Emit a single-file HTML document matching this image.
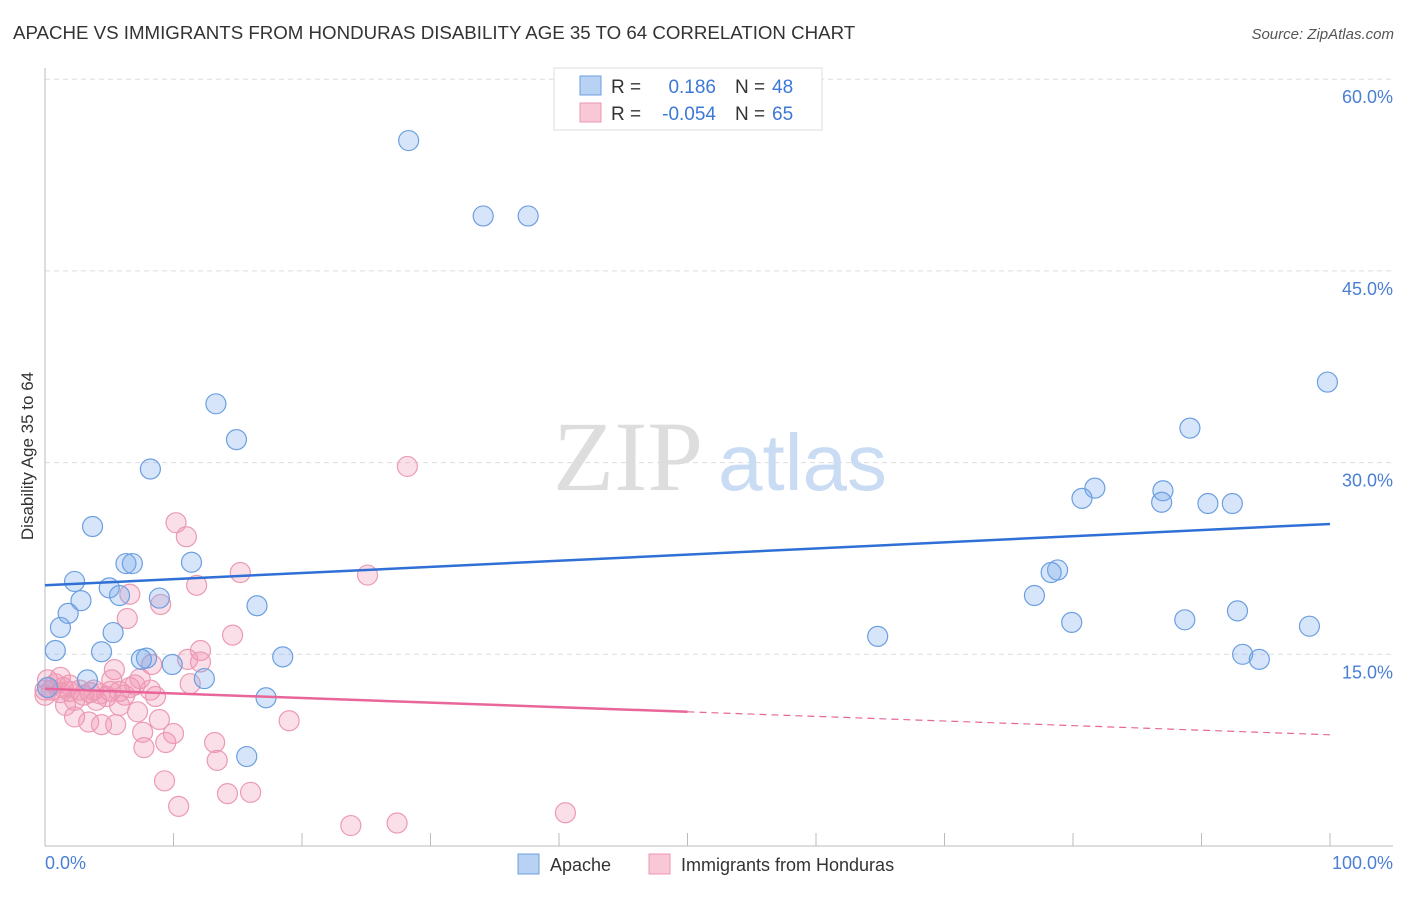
<!DOCTYPE html>
<html><head><meta charset="utf-8"><style>
body{margin:0;background:#fff;font-family:"Liberation Sans",sans-serif;}
svg text{font-family:"Liberation Sans",sans-serif;}
</style></head><body>
<svg id="chart" width="1406" height="892" xmlns="http://www.w3.org/2000/svg">
<text x="13" y="39" font-size="18.7" fill="#333">APACHE VS IMMIGRANTS FROM HONDURAS DISABILITY AGE 35 TO 64 CORRELATION CHART</text>
<text x="1394" y="39" font-size="15" fill="#555" text-anchor="end" font-style="italic">Source: ZipAtlas.com</text>
<g id="grid"></g>
<text x="553" y="490" font-size="100" fill="#ddd" style="font-family:'Liberation Serif',serif">ZIP</text>
<text x="718" y="490" font-size="80" fill="#c9dcf3">atlas</text>
<g id="pts"></g>
<g id="lines"></g>
<text transform="translate(33,456) rotate(-90)" font-size="17" fill="#333" text-anchor="middle">Disability Age 35 to 64</text>
<text x="45" y="869" font-size="18" fill="#4a7fd4">0.0%</text>
<text x="1393" y="869" font-size="18" fill="#4a7fd4" text-anchor="end">100.0%</text>
<g>
<rect x="554" y="68" width="268" height="62" fill="#fff" stroke="#ddd"/>
<rect x="580" y="76" width="21" height="19" fill="#b8d2f4" stroke="#6d9ee0"/>
<rect x="580" y="103" width="21" height="19" fill="#f9c8d6" stroke="#ec97b0"/>
<text x="611" y="93" font-size="19" fill="#333">R =</text>
<text x="716" y="93" font-size="19" fill="#3d78d6" text-anchor="end">0.186</text>
<text x="735" y="93" font-size="19" fill="#333">N =</text>
<text x="772" y="93" font-size="19" fill="#3d78d6">48</text>
<text x="611" y="120" font-size="19" fill="#333">R =</text>
<text x="716" y="120" font-size="19" fill="#3d78d6" text-anchor="end">-0.054</text>
<text x="735" y="120" font-size="19" fill="#333">N =</text>
<text x="772" y="120" font-size="19" fill="#3d78d6">65</text>
</g>
<g>
<rect x="518" y="854" width="21" height="20" fill="#b8d2f4" stroke="#6d9ee0"/>
<text x="550" y="871" font-size="18" fill="#333">Apache</text>
<rect x="649" y="854" width="21" height="20" fill="#f9c8d6" stroke="#ec97b0"/>
<text x="681" y="871" font-size="18" fill="#333">Immigrants from Honduras</text>
</g>
</svg>
<script>
const yTicks=[15,30,45,60];
const yTickLabels=["15.0%","30.0%","45.0%","60.0%"];
const xTicks=[0,10,20,30,40,50,60,70,80,90,100];
const apacheX=[28.3,34.1,37.6,13.3,14.9,8.2,3.7,6.3,6.8,11.4,2.3,5.0,2.8,5.8,8.9,1.8,16.5,1.2,5.3,0.8,4.4,7.9,7.5,9.9,18.5,12.4,3.3,17.2,15.7,0.2,64.8,99.8,89.1,81.7,80.7,87.0,86.9,90.5,92.4,78.8,78.3,77.0,79.9,88.7,92.8,98.4,93.2,94.5];
const apacheY=[55.2,49.3,49.3,34.6,31.8,29.5,25.0,22.1,22.1,22.2,20.7,20.2,19.2,19.6,19.4,18.2,18.8,17.1,16.7,15.3,15.2,14.7,14.6,14.2,14.8,13.1,13.0,11.6,7.0,12.4,16.4,36.3,32.7,28.0,27.2,27.8,26.9,26.8,26.8,21.6,21.4,19.6,17.5,17.7,18.4,17.2,15.0,14.6];
const hondX=[28.2,10.2,11.0,15.2,25.1,11.8,6.6,9.0,6.4,14.6,12.1,8.3,11.1,12.1,5.4,7.4,1.2,0.2,0.8,1.9,2.7,3.5,4.3,5.1,5.8,6.6,2.3,1.6,4.0,4.8,11.3,8.6,5.8,7.2,2.3,3.4,4.4,5.5,8.9,10.0,7.6,19.0,7.7,9.4,13.2,13.4,9.3,10.4,14.2,16.0,23.8,27.4,40.5,0.5,0,1.2,3.0,3.8,6.2,7.0,5.2,8.2,1.4,0,1.9];
const hondY=[29.7,25.3,24.2,21.4,21.2,20.4,19.7,18.9,17.8,16.5,15.3,14.2,14.6,14.4,13.8,13.1,13.2,13.0,12.7,12.1,12.2,12.0,11.9,12.1,12.1,12.4,11.4,11.0,11.4,11.7,12.7,11.7,11.0,10.5,10.1,9.7,9.5,9.5,9.9,8.8,8.9,9.8,7.7,8.1,8.1,6.7,5.1,3.1,4.1,4.2,1.6,1.8,2.6,12.2,12.2,12.0,11.8,12.2,11.8,12.6,13.0,12.2,12.4,11.8,12.6];
const apacheTrend=[20.4,25.2];
const hondTrend=[12.3,8.7];
const hondSolidEnd=50;

const NS="http://www.w3.org/2000/svg";
const sx=v=>45+v*12.85;
const sy=v=>846-v*12.78;
function mk(tag,attrs,parent){const e=document.createElementNS(NS,tag);for(const k in attrs)e.setAttribute(k,attrs[k]);parent.appendChild(e);return e;}
const grid=document.getElementById('grid');
yTicks.forEach((t,i)=>{
  const l=mk('line',{x1:45,x2:1393,y1:sy(t),y2:sy(t),stroke:'#ddd','stroke-dasharray':'5,4'},grid);
  
  
  const tx=mk('text',{x:1393,y:sy(t)+24,'font-size':18,fill:'#4a7fd4','text-anchor':'end'},grid);
  tx.textContent=yTickLabels[i];
  
  
});
const ax=mk('line',{x1:45,x2:45,y1:68,y2:846,stroke:'#bbb'},grid);


const bx=mk('line',{x1:45,x2:1393,y1:846,y2:846,stroke:'#bbb'},grid);


xTicks.forEach(t=>{
  const l=mk('line',{x1:sx(t),x2:sx(t),y1:833,y2:846,stroke:'#bbb'},grid);
  
  
});
const pts=document.getElementById('pts');
hondX.forEach((x,i)=>{
  const c=mk('circle',{cx:sx(x),cy:sy(hondY[i]),r:10,fill:'rgba(243,150,180,0.3)',stroke:'#eb9ab3','stroke-width':1.2},pts);
  
  
});
apacheX.forEach((x,i)=>{
  const c=mk('circle',{cx:sx(x),cy:sy(apacheY[i]),r:10,fill:'rgba(120,170,235,0.3)',stroke:'#6c9fe0','stroke-width':1.2},pts);
  
  
});
const lines=document.getElementById('lines');
const la=mk('line',{x1:sx(0),y1:sy(apacheTrend[0]),x2:sx(100),y2:sy(apacheTrend[1]),stroke:'#2f6fd6','stroke-width':2.5},lines);


const hm=hondTrend[0]+(hondTrend[1]-hondTrend[0])*hondSolidEnd/100;
const lh=mk('line',{x1:sx(0),y1:sy(hondTrend[0]),x2:sx(hondSolidEnd),y2:sy(hm),stroke:'#e8669a','stroke-width':2.5},lines);


const ld=mk('line',{x1:sx(hondSolidEnd),y1:sy(hm),x2:sx(100),y2:sy(hondTrend[1]),stroke:'#e8669a','stroke-width':1.2,'stroke-dasharray':'7,5'},lines);


</script>
</body></html>
